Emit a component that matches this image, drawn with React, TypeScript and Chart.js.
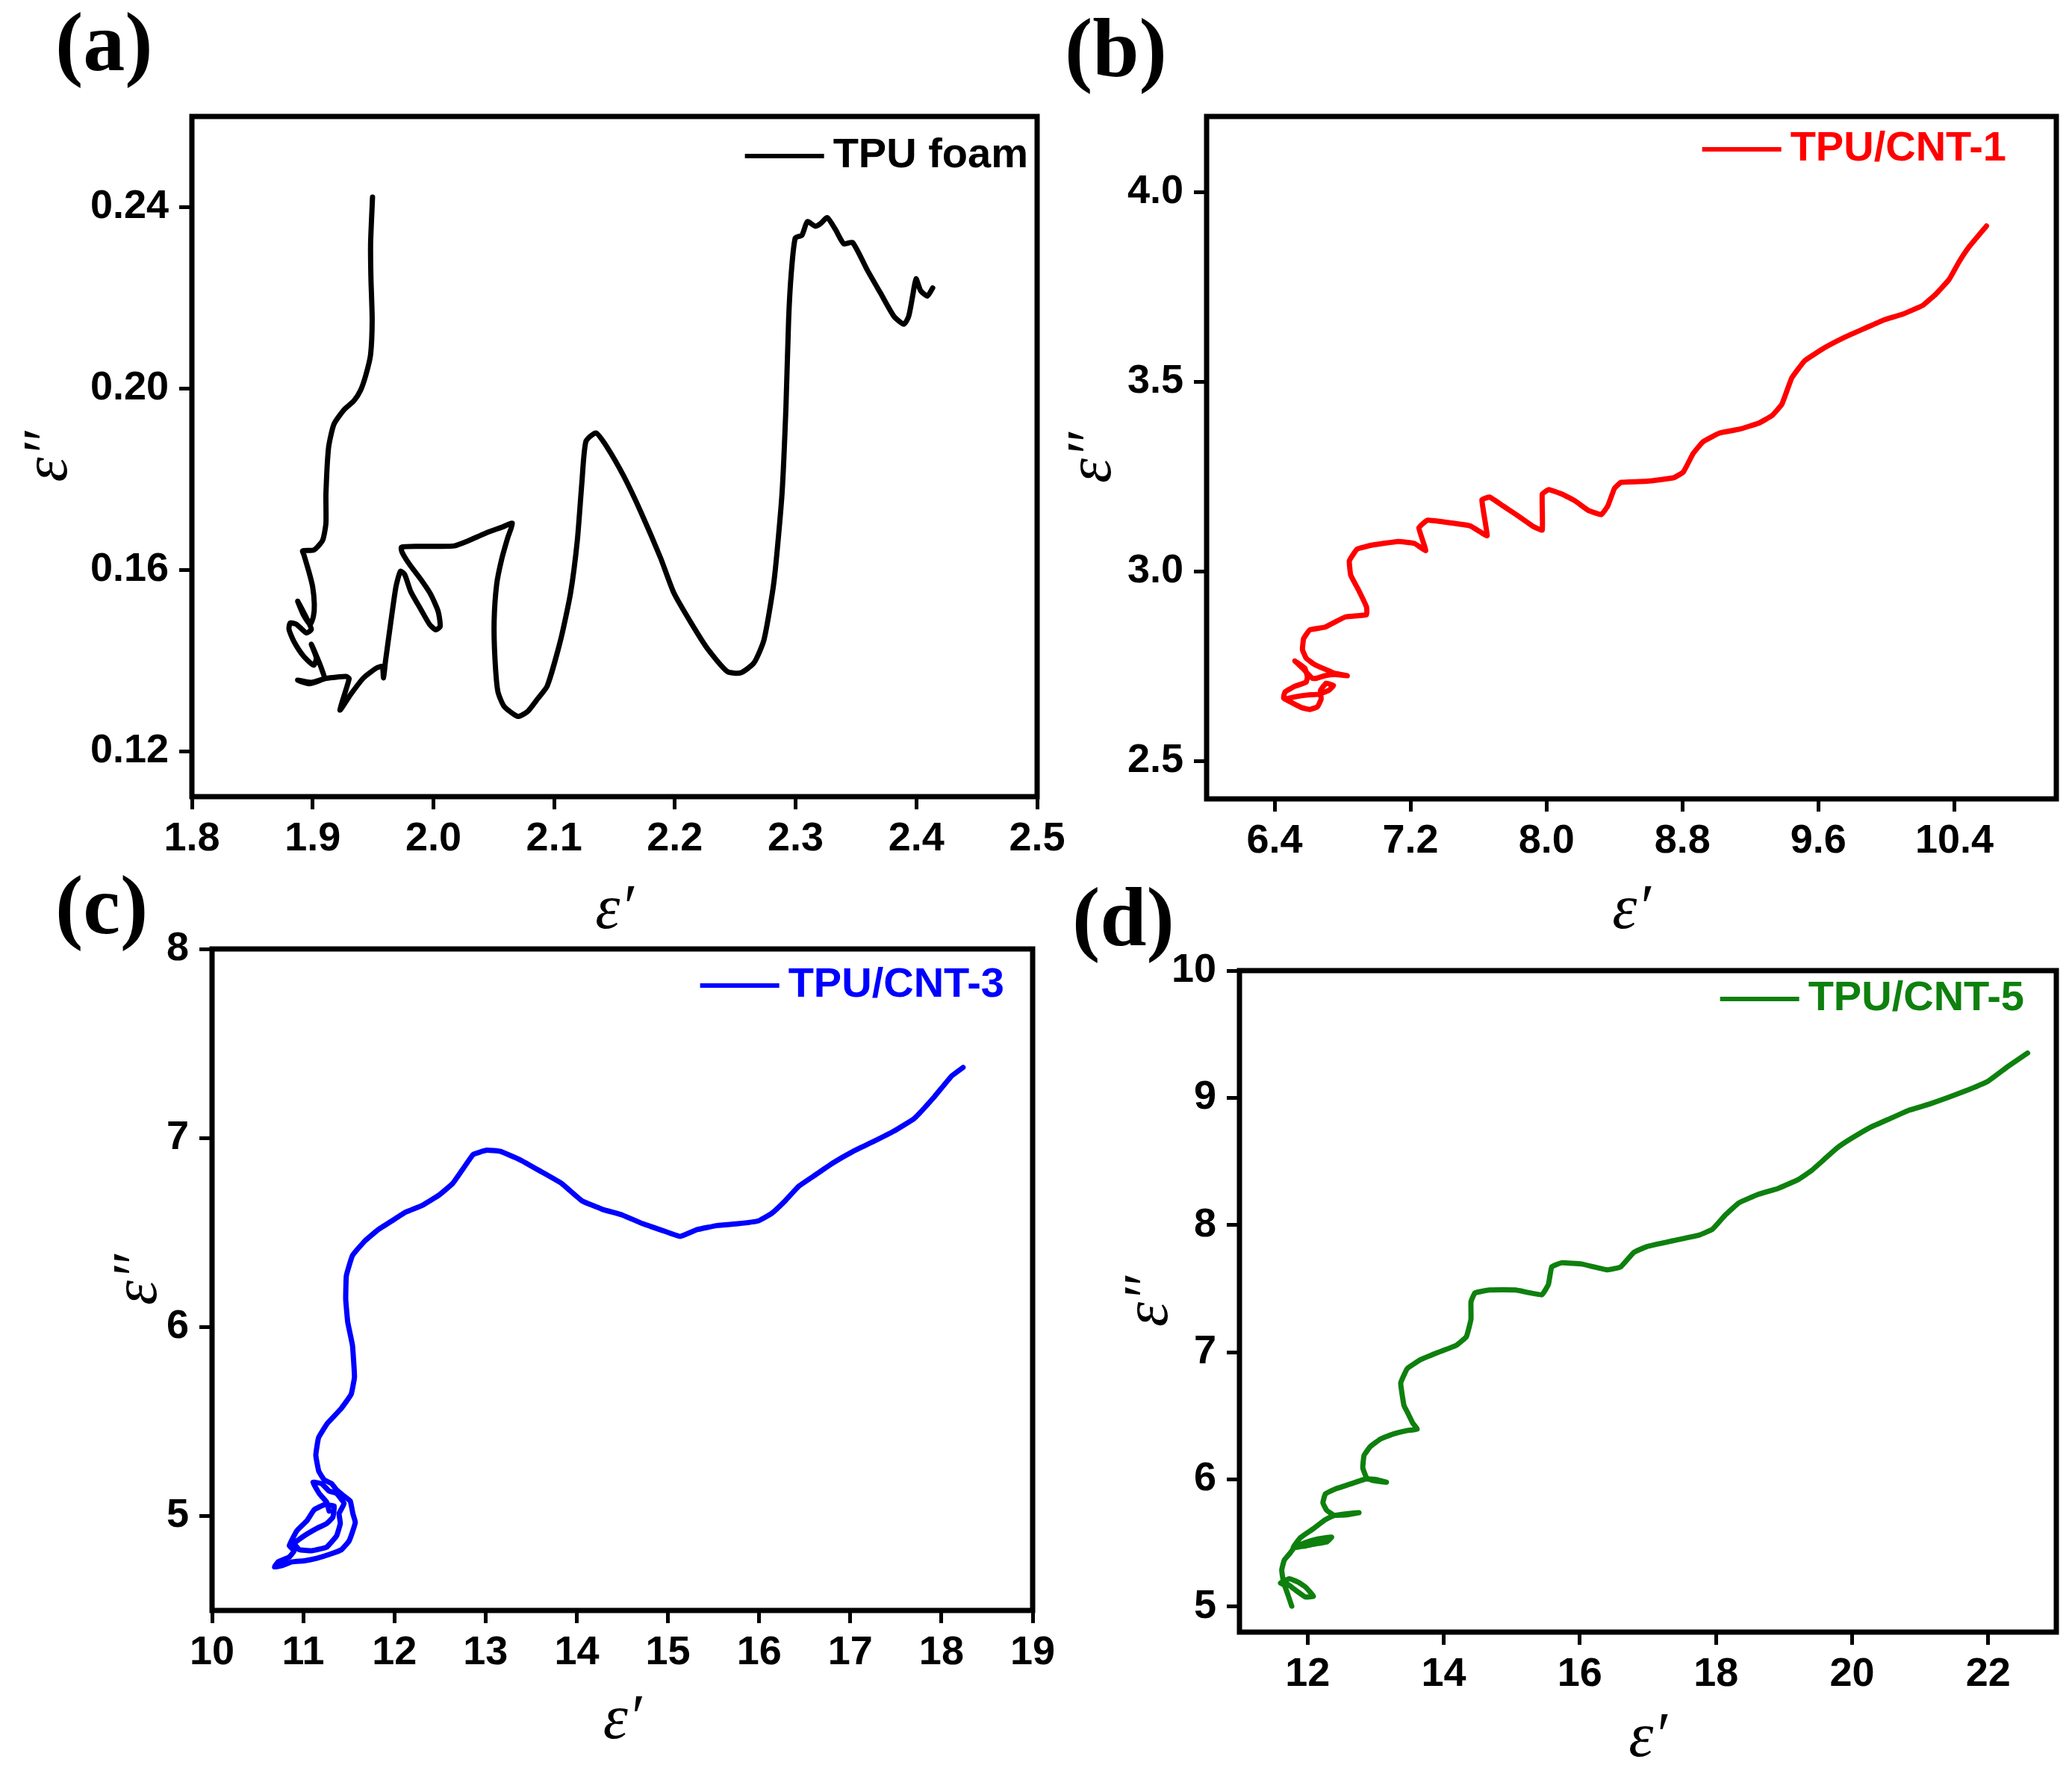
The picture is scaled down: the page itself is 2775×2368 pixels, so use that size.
import React, { useEffect, useRef } from "react";
import { Chart, registerables } from "chart.js";

Chart.register(...registerables);

// ---------------- DATA ----------------
// (a) TPU foam
const A_EPS1 = [
  1.9496, 1.948, 1.9483, 1.9493, 1.948, 1.9441, 1.9397, 1.9342, 1.9259, 1.9176, 1.9132, 1.911, 1.911, 1.9082, 1.901,
  1.8917, 1.8927, 1.8969, 1.9, 1.9014, 1.9006, 1.8979, 1.8927, 1.8876, 1.8907, 1.8958, 1.8989, 1.8948, 1.8866, 1.8814,
  1.8804, 1.8845, 1.8927, 1.901, 1.903, 1.8989, 1.9051, 1.9082, 1.9096, 1.8969, 1.8876, 1.8989, 1.9113, 1.9278, 1.9302,
  1.9226, 1.9319, 1.9422, 1.9525, 1.9576, 1.9587, 1.9603, 1.9648, 1.969, 1.9727, 1.9762, 1.9813, 1.9896, 1.9968, 2.0019,
  2.0056, 2.004, 1.9978, 1.9896, 1.9803, 1.9741, 1.9735, 1.9875, 2.004, 2.0174, 2.0287, 2.0431, 2.0575, 2.0654, 2.0617,
  2.0565, 2.0524, 2.0503, 2.051, 2.0534, 2.0586, 2.0699, 2.0781, 2.0864, 2.0943, 2.1054, 2.1136, 2.1192, 2.123, 2.1263,
  2.1346, 2.144, 2.1578, 2.1716, 2.1882, 2.1992, 2.213, 2.2268, 2.2434, 2.2545, 2.2655, 2.2738, 2.2821, 2.2887, 2.292,
  2.2942, 2.2964, 2.2997, 2.3052, 2.3097, 2.3163, 2.3207, 2.3262, 2.3329, 2.34, 2.3472, 2.3594, 2.3704, 2.3815, 2.3897,
  2.3936, 2.3969, 2.3997, 2.4035, 2.4091, 2.4135,
];
const A_EPS2 = [
  0.2422, 0.2319, 0.2242, 0.2152, 0.2075, 0.203, 0.1996, 0.1973, 0.1953, 0.1921, 0.187, 0.1767, 0.1703, 0.1665, 0.1644,
  0.1642, 0.1634, 0.1596, 0.1563, 0.1524, 0.1497, 0.148, 0.1499, 0.1531, 0.1516, 0.1489, 0.1469, 0.1461, 0.148, 0.1483,
  0.1469, 0.1442, 0.1409, 0.139, 0.1406, 0.1436, 0.1398, 0.1376, 0.1361, 0.1349, 0.1357, 0.1352, 0.1361, 0.1365, 0.136,
  0.1291, 0.1327, 0.1362, 0.1383, 0.1387, 0.1362, 0.1398, 0.1486, 0.1563, 0.1597, 0.159, 0.1552, 0.1513, 0.148, 0.1468,
  0.1475, 0.1508, 0.1546, 0.1579, 0.1612, 0.1639, 0.165, 0.1652, 0.1652, 0.1653, 0.1664, 0.1681, 0.1695, 0.1703, 0.1672,
  0.1623, 0.1568, 0.1486, 0.1404, 0.1332, 0.1299, 0.1277, 0.1288, 0.1316, 0.1344, 0.1446, 0.1549, 0.1665, 0.1793, 0.1883,
  0.1902, 0.187, 0.1806, 0.1729, 0.1626, 0.1549, 0.1485, 0.1427, 0.1376, 0.1373, 0.1395, 0.1446, 0.1575, 0.1767, 0.196,
  0.2152, 0.2255, 0.2332, 0.2338, 0.2368, 0.2358, 0.2364, 0.2377, 0.2351, 0.2319, 0.2322, 0.2261, 0.221, 0.2159, 0.2142,
  0.2159, 0.2204, 0.2242, 0.2216, 0.2204, 0.2222,
];

// (b) TPU/CNT-1
const B_EPS1 = [
  6.461, 6.519, 6.593, 6.659, 6.718, 6.747, 6.703, 6.67, 6.674, 6.652, 6.608, 6.564, 6.505, 6.453, 6.461, 6.519, 6.586,
  6.593, 6.578, 6.519, 6.564, 6.622, 6.644, 6.696, 6.755, 6.828, 6.755, 6.703, 6.637, 6.586, 6.564, 6.571, 6.608, 6.696,
  6.817, 6.941, 6.941, 6.894, 6.848, 6.84, 6.886, 6.971, 7.126, 7.222, 7.29, 7.249, 7.3, 7.435, 7.551, 7.608, 7.651,
  7.62, 7.666, 7.744, 7.821, 7.917, 7.975, 7.975, 8.014, 8.091, 8.168, 8.246, 8.323, 8.361, 8.4, 8.439, 8.593, 8.748,
  8.805, 8.863, 8.921, 9.018, 9.134, 9.249, 9.327, 9.385, 9.443, 9.52, 9.636, 9.751, 9.867, 9.983, 10.099, 10.215,
  10.292, 10.369, 10.427, 10.485, 10.589,
];
const B_EPS2 = [
  2.663, 2.669, 2.674, 2.676, 2.686, 2.699, 2.705, 2.686, 2.663, 2.643, 2.636, 2.64, 2.653, 2.666, 2.682, 2.697, 2.708,
  2.722, 2.745, 2.764, 2.745, 2.718, 2.718, 2.725, 2.728, 2.725, 2.731, 2.741, 2.754, 2.771, 2.794, 2.823, 2.846, 2.853,
  2.88, 2.886, 2.906, 2.951, 2.99, 3.028, 3.059, 3.069, 3.079, 3.074, 3.055, 3.115, 3.135, 3.128, 3.12, 3.105, 3.094,
  3.189, 3.196, 3.173, 3.15, 3.12, 3.109, 3.204, 3.216, 3.204, 3.186, 3.161, 3.15, 3.173, 3.219, 3.235, 3.238, 3.247,
  3.262, 3.311, 3.342, 3.365, 3.375, 3.391, 3.411, 3.441, 3.51, 3.556, 3.59, 3.617, 3.64, 3.663, 3.679, 3.702, 3.732,
  3.77, 3.816, 3.855, 3.911,
];

// (c) TPU/CNT-3
const C_EPS1 = [
  18.237, 18.11, 17.924, 17.701, 17.478, 17.254, 17.031, 16.808, 16.622, 16.436, 16.287, 16.138, 15.99, 15.766, 15.543,
  15.32, 15.134, 14.948, 14.725, 14.501, 14.278, 14.055, 13.832, 13.609, 13.385, 13.162, 13.013, 12.865, 12.753, 12.641,
  12.493, 12.307, 12.121, 11.972, 11.823, 11.674, 11.54, 11.473, 11.466, 11.488, 11.54, 11.562, 11.525, 11.414, 11.265,
  11.168, 11.138, 11.17, 11.23, 11.312, 11.366, 11.448, 11.516, 11.544, 11.571, 11.544, 11.503, 11.421, 11.284, 11.148,
  11.011, 10.875, 10.765, 10.684, 10.725, 10.847, 10.902, 10.847, 10.929, 11.039, 11.12, 11.23, 11.339, 11.325, 11.257,
  11.148, 11.011, 10.902, 10.956, 11.093, 11.257, 11.366, 11.407, 11.393, 11.448, 11.366, 11.284, 11.202, 11.107,
  11.175, 11.257, 11.284,
];
const C_EPS2 = [
  7.373, 7.327, 7.219, 7.103, 7.036, 6.981, 6.929, 6.867, 6.806, 6.745, 6.668, 6.601, 6.561, 6.546, 6.537, 6.515, 6.479,
  6.509, 6.546, 6.592, 6.623, 6.668, 6.76, 6.822, 6.883, 6.929, 6.935, 6.913, 6.837, 6.76, 6.699, 6.644, 6.607, 6.561,
  6.515, 6.454, 6.378, 6.271, 6.148, 6.026, 5.903, 5.735, 5.643, 5.567, 5.49, 5.414, 5.322, 5.237, 5.191, 5.171, 5.138,
  5.105, 5.079, 5.013, 4.967, 4.921, 4.868, 4.822, 4.796, 4.776, 4.763, 4.757, 4.737, 4.73, 4.757, 4.783, 4.816, 4.842,
  4.921, 4.974, 5.033, 5.059, 5.053, 4.993, 4.96, 4.934, 4.895, 4.855, 4.822, 4.816, 4.835, 4.895, 4.961, 5.013, 5.066,
  5.119, 5.132, 5.171, 5.178, 5.119, 5.073, 5.026,
];

// (d) TPU/CNT-5
const D_EPS1 = [
  11.768, 11.713, 11.658, 11.603, 11.731, 11.859, 11.969, 12.087, 11.969, 11.859, 11.749, 11.647, 11.621, 11.658, 11.749,
  11.804, 11.969, 12.152, 12.354, 12.281, 12.116, 11.932, 11.786, 11.896, 12.079, 12.262, 12.38, 12.555, 12.757, 12.592,
  12.391, 12.281, 12.226, 12.262, 12.409, 12.629, 12.849, 12.995, 13.16, 12.958, 12.867, 12.812, 12.83, 12.922, 13.069,
  13.252, 13.472, 13.611, 13.545, 13.472, 13.417, 13.369, 13.466, 13.659, 13.9, 14.189, 14.334, 14.401, 14.401, 14.459,
  14.671, 15.057, 15.443, 15.539, 15.587, 15.732, 16.021, 16.407, 16.6, 16.793, 16.986, 17.371, 17.757, 17.95, 18.143,
  18.336, 18.625, 18.914, 19.204, 19.397, 19.59, 19.783, 19.975, 20.265, 20.554, 20.843, 21.132, 21.422, 21.711, 22.0,
  22.289, 22.578,
];
const D_EPS2 = [
  5.004, 5.092, 5.171, 5.186, 5.22, 5.194, 5.155, 5.082, 5.076, 5.116, 5.161, 5.2, 5.288, 5.366, 5.425, 5.464, 5.504,
  5.533, 5.547, 5.508, 5.494, 5.474, 5.464, 5.543, 5.611, 5.684, 5.715, 5.729, 5.739, 5.723, 5.719, 5.758, 5.817, 5.886,
  5.925, 5.964, 6.003, 6.0, 5.978, 5.993, 6.013, 6.091, 6.189, 6.258, 6.317, 6.356, 6.385, 6.395, 6.444, 6.523, 6.581,
  6.758, 6.872, 6.941, 6.995, 7.055, 7.123, 7.26, 7.397, 7.466, 7.489, 7.489, 7.452, 7.534, 7.671, 7.703, 7.694, 7.648,
  7.671, 7.785, 7.831, 7.877, 7.922, 7.968, 8.082, 8.174, 8.242, 8.288, 8.356, 8.425, 8.516, 8.607, 8.676, 8.767, 8.836,
  8.904, 8.95, 9.005, 9.064, 9.132, 9.247, 9.352,
];

// Tick labels
const A_X_TICKS = [1.8, 1.9, 2.0, 2.1, 2.2, 2.3, 2.4, 2.5];
const A_Y_TICKS = [0.12, 0.16, 0.2, 0.24];
const B_X_TICKS = [6.4, 7.2, 8.0, 8.8, 9.6, 10.4];
const B_Y_TICKS = [2.5, 3.0, 3.5, 4.0];
const C_X_TICKS = [10, 11, 12, 13, 14, 15, 16, 17, 18, 19];
const C_Y_TICKS = [5, 6, 7, 8];
const D_X_TICKS = [12, 14, 16, 18, 20, 22];
const D_Y_TICKS = [5, 6, 7, 8, 9, 10];

const SERIES_NAMES = ["TPU foam", "TPU/CNT-1", "TPU/CNT-3", "TPU/CNT-5"];
const PANEL_LETTERS = ["(a)", "(b)", "(c)", "(d)"];
const X_TITLE = "\u03b5\u2032";
const Y_TITLE = "\u03b5\u2033";

// ---------------- LAYOUT ----------------
const W = 2775;
const H = 2368;
const SANS = "'Liberation Sans', Arial, Helvetica, sans-serif";
const SERIF = "'Liberation Serif', 'Times New Roman', Times, serif";
const TITLE_SIZE = 84;
const TITLE_LH = TITLE_SIZE * 1.2;

type Panel = {
  xs: number[];
  ys: number[];
  name: string;
  color: string;
  xRange: [number, number];
  yRange: [number, number];
  xTicks: number[];
  yTicks: number[];
  xDec: number;
  yDec: number;
  area: { l: number; t: number; r: number; b: number };
  yTitleX: number;
  xTitleY: number;
  legendRight: number;
  legendY: number;
  tension: number;
};

const PANELS: Panel[] = [
  {
    xs: A_EPS1, ys: A_EPS2, name: SERIES_NAMES[0], color: "#000000",
    xRange: [1.8, 2.5], yRange: [0.11, 0.26], xTicks: A_X_TICKS, yTicks: A_Y_TICKS, xDec: 1, yDec: 2,
    area: { l: 257, t: 156, r: 1389, b: 1067 }, yTitleX: 67, xTitleY: 1221,
    legendRight: 1377, legendY: 209, tension: 0.2,
  },
  {
    xs: B_EPS1, ys: B_EPS2, name: SERIES_NAMES[1], color: "#ff0000",
    xRange: [6.0, 11.0], yRange: [2.4, 4.2], xTicks: B_X_TICKS, yTicks: B_Y_TICKS, xDec: 1, yDec: 1,
    area: { l: 1616, t: 156, r: 2754, b: 1070 }, yTitleX: 1465, xTitleY: 1221,
    legendRight: 2687, legendY: 200, tension: 0.1,
  },
  {
    xs: C_EPS1, ys: C_EPS2, name: SERIES_NAMES[2], color: "#0000ff",
    xRange: [10, 19], yRange: [4.5, 8], xTicks: C_X_TICKS, yTicks: C_Y_TICKS, xDec: 0, yDec: 0,
    area: { l: 284, t: 1271, r: 1383, b: 2157 }, yTitleX: 187, xTitleY: 2306,
    legendRight: 1345, legendY: 1320, tension: 0.1,
  },
  {
    xs: D_EPS1, ys: D_EPS2, name: SERIES_NAMES[3], color: "#0e800e",
    xRange: [11, 23], yRange: [4.8, 10], xTicks: D_X_TICKS, yTicks: D_Y_TICKS, xDec: 0, yDec: 0,
    area: { l: 1660, t: 1300, r: 2754, b: 2186 }, yTitleX: 1541, xTitleY: 2330,
    legendRight: 2711, legendY: 1338, tension: 0.1,
  },
];

const LETTER_POS = [
  { left: 74, top: 0 },
  { left: 1426, top: 8 },
  { left: 74, top: 1156 },
  { left: 1436, top: 1172 },
];

const framePlugin = {
  id: "frameBox",
  afterDatasetsDraw(chart: any) {
    const { ctx, chartArea } = chart;
    ctx.save();
    ctx.strokeStyle = "#000";
    ctx.lineWidth = 7;
    ctx.strokeRect(chartArea.left, chartArea.top, chartArea.right - chartArea.left, chartArea.bottom - chartArea.top);
    ctx.restore();
  },
};

const insideLegendPlugin = {
  id: "insideLegend",
  afterDraw(chart: any, _args: any, opts: any) {
    const ctx = chart.ctx;
    ctx.save();
    ctx.font = `bold 56px ${SANS}`;
    ctx.textAlign = "right";
    ctx.textBaseline = "middle";
    ctx.fillStyle = opts.color;
    ctx.fillText(opts.text, opts.right, opts.y);
    const tw = ctx.measureText(opts.text).width;
    const x2 = opts.right - tw - 12;
    ctx.strokeStyle = opts.color;
    ctx.lineWidth = 6;
    ctx.beginPath();
    ctx.moveTo(x2 - 106, opts.y);
    ctx.lineTo(x2, opts.y);
    ctx.stroke();
    ctx.restore();
  },
};

function buildConfig(p: Panel): any {
  const pad = {
    left: p.yTitleX - TITLE_LH / 2,
    top: p.area.t,
    right: W - p.area.r,
    bottom: H - p.xTitleY - TITLE_LH / 2,
  };
  const yW = p.area.l - pad.left;
  const xH = p.xTitleY + TITLE_LH / 2 - p.area.b;
  const points = p.xs.map((x, i) => ({ x, y: p.ys[i] }));
  const tickFont = { family: SANS, size: 54, weight: "bold" as const };
  const titleFont = { family: SERIF, size: TITLE_SIZE, style: "italic" as const };
  const grid = {
    display: true,
    drawOnChartArea: false,
    drawTicks: true,
    tickLength: 17,
    tickWidth: 5,
    tickColor: "#000",
    color: "#000",
  };
  return {
    type: "scatter",
    data: {
      datasets: [
        {
          label: p.name,
          data: points,
          showLine: true,
          borderColor: p.color,
          backgroundColor: p.color,
          borderWidth: 7,
          pointRadius: 0,
          pointHoverRadius: 0,
          tension: p.tension,
          borderJoinStyle: "round",
          borderCapStyle: "round",
          fill: false,
        },
      ],
    },
    options: {
      animation: false,
      responsive: false,
      maintainAspectRatio: false,
      devicePixelRatio: 1,
      events: [],
      layout: { padding: pad },
      plugins: {
        legend: { display: false },
        tooltip: { enabled: false },
        insideLegend: { text: p.name, color: p.color, right: p.legendRight, y: p.legendY },
      },
      scales: {
        x: {
          type: "linear",
          min: p.xRange[0],
          max: p.xRange[1],
          afterBuildTicks: (s: any) => {
            s.ticks = p.xTicks.map((v) => ({ value: v }));
          },
          afterFit: (s: any) => {
            s.height = xH;
          },
          ticks: {
            font: tickFont,
            color: "#000",
            padding: 8,
            maxRotation: 0,
            autoSkip: false,
            callback: (v: any) => Number(v).toFixed(p.xDec),
          },
          grid,
          border: { display: false },
          title: { display: true, text: X_TITLE, font: titleFont, color: "#000", padding: 0 },
        },
        y: {
          type: "linear",
          min: p.yRange[0],
          max: p.yRange[1],
          afterBuildTicks: (s: any) => {
            s.ticks = p.yTicks.map((v) => ({ value: v }));
          },
          afterFit: (s: any) => {
            s.width = yW;
          },
          ticks: {
            font: tickFont,
            color: "#000",
            padding: 14,
            autoSkip: false,
            callback: (v: any) => Number(v).toFixed(p.yDec),
          },
          grid,
          border: { display: false },
          title: { display: true, text: Y_TITLE, font: titleFont, color: "#000", padding: 0 },
        },
      },
    },
    plugins: [framePlugin, insideLegendPlugin],
  };
}

function PanelChart({ panel }: { panel: Panel }) {
  const ref = useRef<HTMLCanvasElement | null>(null);
  useEffect(() => {
    if (!ref.current) return;
    const chart = new Chart(ref.current, buildConfig(panel));
    return () => chart.destroy();
  }, [panel]);
  return (
    <canvas
      ref={ref}
      width={W}
      height={H}
      style={{ position: "absolute", left: 0, top: 0, width: W, height: H, pointerEvents: "none" }}
    />
  );
}

export default function App() {
  return (
    <div style={{ position: "absolute", left: 0, top: 0, width: W, height: H, background: "#fff", overflow: "hidden" }}>
      {PANELS.map((p, i) => (
        <PanelChart key={i} panel={p} />
      ))}
      {PANEL_LETTERS.map((t, i) => (
        <div
          key={t}
          style={{
            position: "absolute",
            left: LETTER_POS[i].left,
            top: LETTER_POS[i].top,
            fontFamily: SERIF,
            fontWeight: "bold",
            fontSize: 112,
            lineHeight: "112px",
            color: "#000",
            whiteSpace: "nowrap",
          }}
        >
          {t}
        </div>
      ))}
    </div>
  );
}
